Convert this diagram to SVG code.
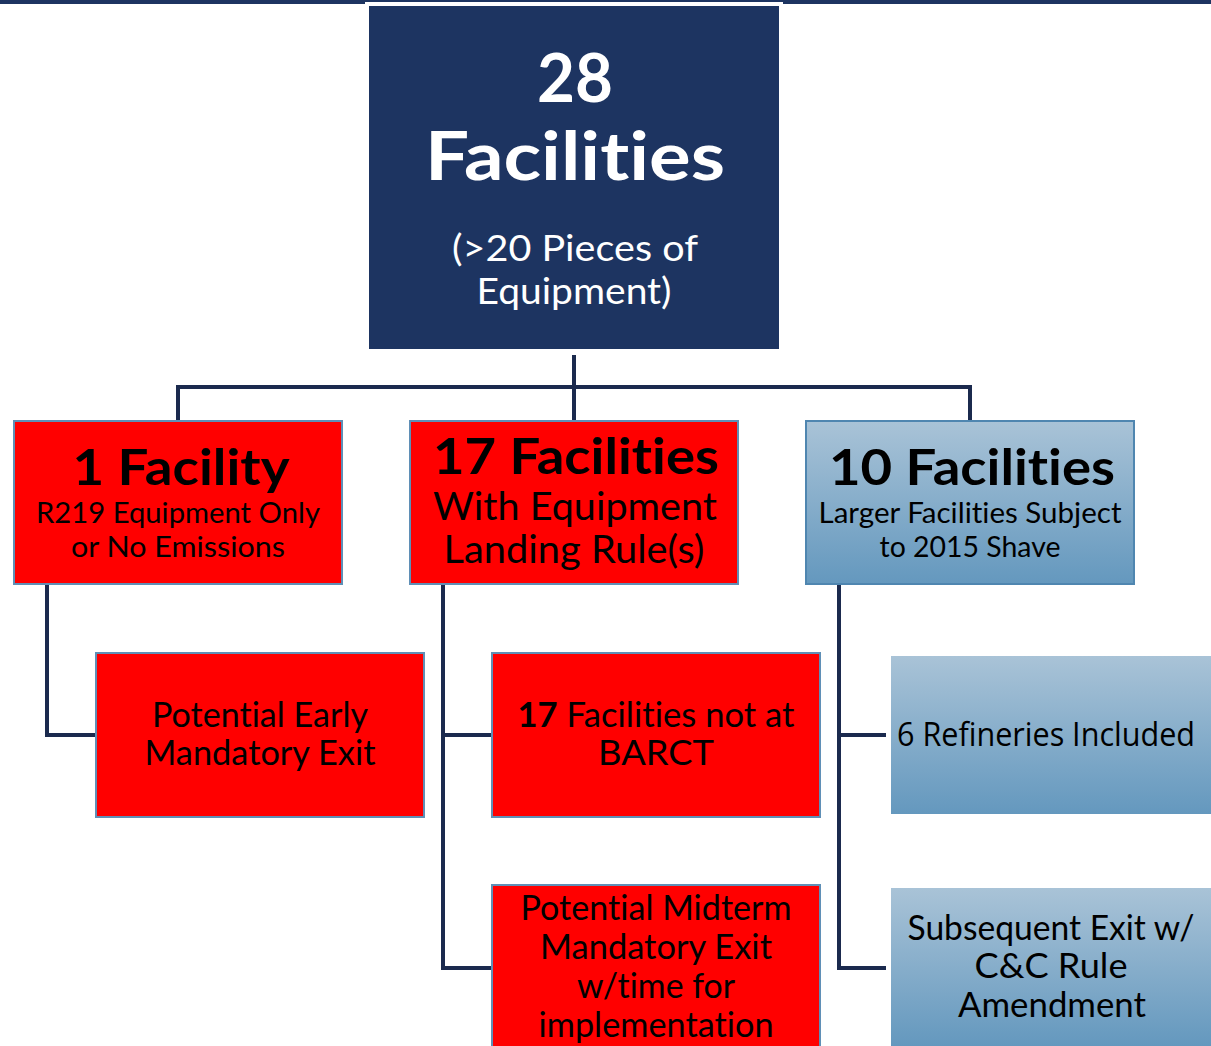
<svg xmlns="http://www.w3.org/2000/svg" width="1211" height="1046" viewBox="0 0 1211 1046">
<defs>
<linearGradient id="blueGrad" x1="0" y1="0" x2="0" y2="1">
<stop offset="0" stop-color="#A9C3D7"/>
<stop offset="1" stop-color="#6498BE"/>
</linearGradient>
<style>
.t{font-family:Lato,"Open Sans","Liberation Sans",sans-serif;fill:#000;text-anchor:middle;font-variant-ligatures:none;font-feature-settings:"liga" 0,"clig" 0}
.w{fill:#fff}
.b{font-weight:bold}
.red{fill:#FF0000;stroke:#5F8FB6;stroke-width:2}
.blue{fill:url(#blueGrad);stroke:#4F86B0;stroke-width:2}
.blueN{fill:url(#blueGrad)}
.conn{fill:none;stroke:#1B2A4E;stroke-width:4;stroke-linejoin:miter}
</style>
</defs>
<rect x="0" y="0" width="1211" height="1046" fill="#fff"/>
<rect x="0" y="0" width="1211" height="4" fill="#1D3461"/>

<g id="connectors">
<path class="conn" d="M574,355 V420"/>
<path class="conn" d="M178,420 V387 H970 V420"/>
<path class="conn" d="M47,585 V735 H96"/>
<path class="conn" d="M443,585 V968 H492 M443,735 H492"/>
<path class="conn" d="M839,585 V968 H886 M839,735 H886"/>
</g>

<g id="top">
<rect x="367" y="4" width="414" height="347" fill="#1D3461" stroke="#fff" stroke-width="4"/>
<text class="t w b" x="575" y="102" font-size="66" textLength="76" lengthAdjust="spacingAndGlyphs">28</text>
<text class="t w b" x="575" y="180" font-size="66" textLength="300" lengthAdjust="spacingAndGlyphs">Facilities</text>
<text class="t w" x="575" y="261" font-size="37" textLength="246" lengthAdjust="spacingAndGlyphs">(&gt;20 Pieces of</text>
<text class="t w" x="574" y="304" font-size="37" textLength="195" lengthAdjust="spacingAndGlyphs">Equipment)</text>
</g>

<g id="n1">
<rect class="red" x="14" y="421" width="328" height="163"/>
<text class="t b" x="181" y="485" font-size="50" textLength="217" lengthAdjust="spacingAndGlyphs">1 Facility</text>
<text class="t" x="178" y="523" font-size="29" textLength="284" lengthAdjust="spacingAndGlyphs">R219 Equipment Only</text>
<text class="t" x="178" y="557" font-size="29" textLength="214" lengthAdjust="spacingAndGlyphs">or No Emissions</text>
</g>

<g id="n17">
<rect class="red" x="410" y="421" width="328" height="163"/>
<text class="t b" x="576" y="474" font-size="50" textLength="286" lengthAdjust="spacingAndGlyphs">17 Facilities</text>
<text class="t" x="575" y="520" font-size="38" textLength="284" lengthAdjust="spacingAndGlyphs">With Equipment</text>
<text class="t" x="574" y="563" font-size="38" textLength="261" lengthAdjust="spacingAndGlyphs">Landing Rule(s)</text>
</g>

<g id="n10">
<rect class="blue" x="806" y="421" width="328" height="163"/>
<text class="t b" x="972" y="485" font-size="50" textLength="286" lengthAdjust="spacingAndGlyphs">10 Facilities</text>
<text class="t" x="970" y="523" font-size="29" textLength="303" lengthAdjust="spacingAndGlyphs">Larger Facilities Subject</text>
<text class="t" x="970" y="557" font-size="29" textLength="181" lengthAdjust="spacingAndGlyphs">to 2015 Shave</text>
</g>

<g id="early">
<rect class="red" x="96" y="653" width="328" height="164"/>
<text class="t" x="260" y="727" font-size="34" textLength="216" lengthAdjust="spacingAndGlyphs">Potential Early</text>
<text class="t" x="260" y="765" font-size="34" textLength="231" lengthAdjust="spacingAndGlyphs">Mandatory Exit</text>
</g>

<g id="barct">
<rect class="red" x="492" y="653" width="328" height="164"/>
<text class="t" x="656" y="727" font-size="34" textLength="277" lengthAdjust="spacingAndGlyphs"><tspan class="b">17</tspan> Facilities not at</text>
<text class="t" x="656" y="765" font-size="34" textLength="116" lengthAdjust="spacingAndGlyphs">BARCT</text>
</g>

<g id="midterm">
<rect class="red" x="492" y="885" width="328" height="170"/>
<text class="t" x="656" y="920" font-size="34" textLength="271" lengthAdjust="spacingAndGlyphs">Potential Midterm</text>
<text class="t" x="656" y="959" font-size="34" textLength="232" lengthAdjust="spacingAndGlyphs">Mandatory Exit</text>
<text class="t" x="656" y="998" font-size="34" textLength="158" lengthAdjust="spacingAndGlyphs">w/time for</text>
<text class="t" x="656" y="1037" font-size="34" textLength="235" lengthAdjust="spacingAndGlyphs">implementation</text>
</g>

<g id="refineries">
<rect class="blueN" x="891" y="656" width="320" height="158"/>
<text class="t" x="1046" y="746" font-size="32" textLength="298" lengthAdjust="spacingAndGlyphs" style="font-family:'Open Sans','Noto Sans','Liberation Sans',sans-serif">6 Refineries Included</text>
</g>

<g id="subsequent">
<rect class="blueN" x="891" y="888" width="320" height="158"/>
<text class="t" x="1051" y="940" font-size="34" textLength="287" lengthAdjust="spacingAndGlyphs">Subsequent Exit w/</text>
<text class="t" x="1051" y="978" font-size="34" textLength="153" lengthAdjust="spacingAndGlyphs">C&amp;C Rule</text>
<text class="t" x="1052" y="1017" font-size="34" textLength="188" lengthAdjust="spacingAndGlyphs">Amendment</text>
</g>
</svg>
